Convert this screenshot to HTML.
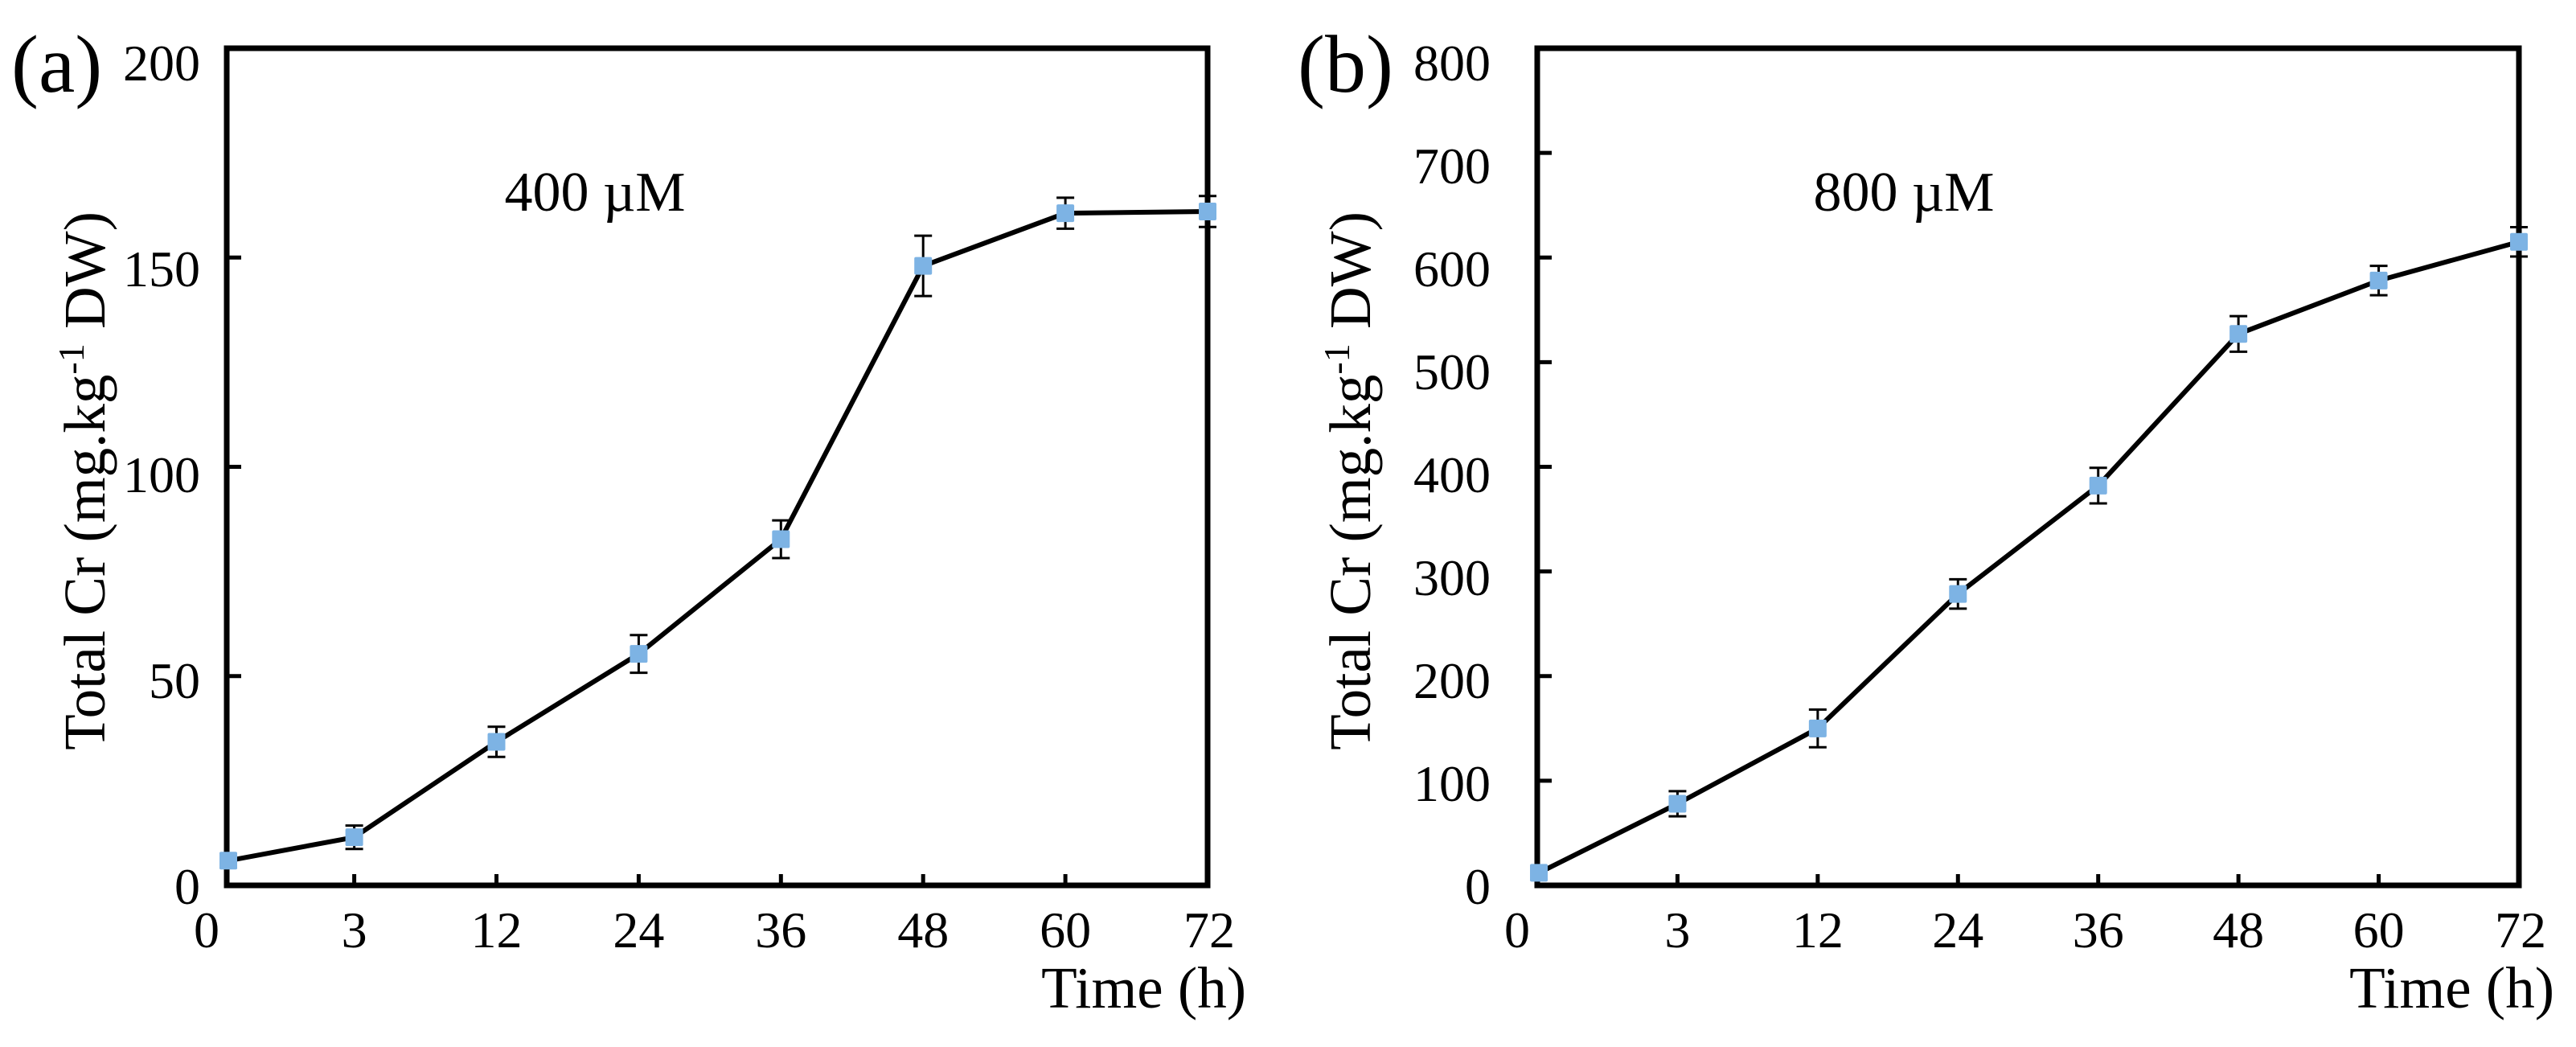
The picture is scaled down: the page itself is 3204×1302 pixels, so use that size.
<!DOCTYPE html>
<html><head><meta charset="utf-8"><style>
html,body{margin:0;padding:0;background:#fff;}
svg{display:block;font-family:"Liberation Serif",serif;}
</style></head><body>
<svg id="chart" width="3204" height="1302" viewBox="0 0 3204 1302" xmlns="http://www.w3.org/2000/svg">
<rect width="3204" height="1302" fill="#fff"/>
</svg>
<script>
const categories = ["0","3","12","24","36","48","60","72"];
const seriesA = [5.9, 11.5, 34.3, 55.3, 82.7, 148, 160.6, 161];
const errorsA = [1.6, 2.8, 3.6, 4.5, 4.5, 7.2, 3.7, 3.7];
const seriesB = [12, 78, 150, 278.5, 382, 527, 578, 615];
const errorsB = [6, 12, 18, 14, 17, 17, 14, 14];
const ticksA = [0, 50, 100, 150, 200];
const ticksB = [0, 100, 200, 300, 400, 500, 600, 700, 800];

const NS = "http://www.w3.org/2000/svg";
const svg = document.getElementById('chart');
function mk(tag, attrs, parent, txt){
  const e = document.createElementNS(NS, tag);
  for (const k in attrs) e.setAttribute(k, attrs[k]);
  if (txt !== undefined) e.textContent = txt;
  (parent || svg).appendChild(e);
  return e;
}

function panel(cfg){
  const g = mk('g', {});
  
  
  const L = cfg.left, R = cfg.right, T = 60, B = 1101;
  const ymax = cfg.ticks[cfg.ticks.length - 1];
  const y = v => B - (v / ymax) * (B - T);
  const n = categories.length;
  const x1 = L + cfg.firstFrac * (R - L);
  const step = (R - x1) / (n - 2);
  const x = i => i === 0 ? L + 2 : x1 + (i - 1) * step;

  cfg.ticks.forEach(v => {
    if (v > 0 && v < ymax) {
      const t = mk('line', {x1: L, x2: L + 18, y1: y(v), y2: y(v), stroke: '#000', 'stroke-width': 5}, g);
      
      
    }
    const base = 1124 - (v / ymax) * (1124 - 100);
    const lb = mk('text', {x: cfg.ylabX, y: base, 'text-anchor': 'end', 'font-size': 64}, g, String(v));
    
    
  });
  categories.forEach((c, i) => {
    if (i > 0 && i < n - 1) {
      const t = mk('line', {x1: x(i), x2: x(i), y1: B, y2: B - 14, stroke: '#000', 'stroke-width': 5}, g);
      
      
    }
    const lx = i === 0 ? L - 25 : (i === n - 1 ? R + 2 : x(i));
    const lb = mk('text', {x: lx, y: 1178, 'text-anchor': 'middle', 'font-size': 64}, g, c);
    
    
  });
  const fr = mk('rect', {x: L, y: T, width: R - L, height: B - T, fill: 'none', stroke: '#000', 'stroke-width': 7}, g);
  
  
  const pts = cfg.data.map((v, i) => x(i) + ',' + y(v)).join(' ');
  const pl = mk('polyline', {points: pts, fill: 'none', stroke: '#000', 'stroke-width': 6, 'stroke-linejoin': 'round'}, g);
  
  
  cfg.data.forEach((v, i) => {
    const e = cfg.err[i], cx = x(i);
    const eg = mk('g', {stroke: '#000', 'stroke-width': 3}, g);
    
    
    mk('line', {x1: cx, x2: cx, y1: y(v + e), y2: y(v - e)}, eg);
    mk('line', {x1: cx - 11, x2: cx + 11, y1: y(v + e), y2: y(v + e)}, eg);
    mk('line', {x1: cx - 11, x2: cx + 11, y1: y(v - e), y2: y(v - e)}, eg);
  });
  cfg.data.forEach((v, i) => {
    const m = mk('rect', {x: x(i) - 11, y: y(v) - 11, width: 22, height: 22, rx: 2, fill: '#7db3e4'}, g);
    
    
  });
  const pl2 = mk('text', {x: cfg.letterX, y: 114, 'font-size': 102}, g, cfg.letter);
  
  
  const conc = mk('text', {x: cfg.concX, y: 262, 'text-anchor': 'middle', 'font-size': 70}, g, cfg.conc);
  
  
  const yt = mk('text', {x: 0, y: 0, 'text-anchor': 'middle', 'font-size': 73, transform: 'translate(' + cfg.ytX + ',598) rotate(-90)'}, g);
  
  
  mk('tspan', {}, yt, 'Total Cr (mg.kg');
  mk('tspan', {dy: -26, 'font-size': 46}, yt, '-1');
  mk('tspan', {dy: 26}, yt, ' DW)');
  const xt = mk('text', {x: cfg.xtR, y: 1253, 'text-anchor': 'end', 'font-size': 73}, g, 'Time (h)');
  
  
}

panel({id: 'a', left: 282, right: 1502, firstFrac: 0.13, ticks: ticksA, data: seriesA, err: errorsA,
  ylabX: 249, letter: '(a)', letterX: 14, conc: '400 \u00B5M', concX: 740, ytX: 130, xtR: 1550});
panel({id: 'b', left: 1912, right: 3133, firstFrac: 1/7, ticks: ticksB, data: seriesB, err: errorsB,
  ylabX: 1854, letter: '(b)', letterX: 1614, conc: '800 \u00B5M', concX: 2368, ytX: 1704, xtR: 3177});
</script>
</body></html>
